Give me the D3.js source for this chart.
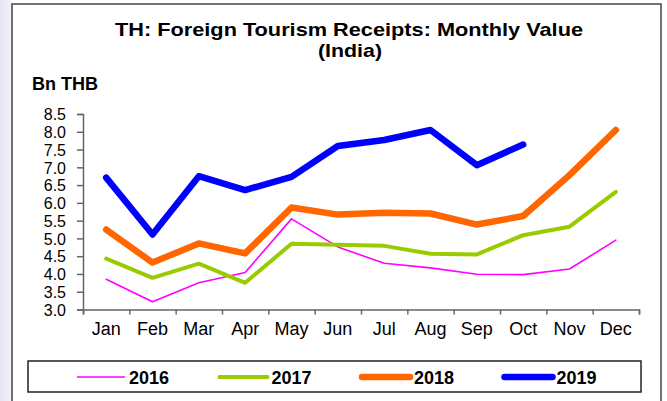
<!DOCTYPE html>
<html lang="en">
<head>
    <meta charset="UTF-8">
    <title>TH: Foreign Tourism Receipts: Monthly Value (India)</title>
    <script src="https://cdnjs.cloudflare.com/ajax/libs/d3/7.8.5/d3.min.js"></script>
    <style>
        body { margin: 0; background: #fff; }
        svg { display: block; font-family: "Liberation Sans", Arial, sans-serif; }
        .axis path, .axis line { stroke: #666; stroke-width: 1.5px; }
        .axis text { font-size: 18px; fill: #000; }
        .yaxis text { font-size: 16px; }
    </style>
</head>
<body>
    <svg id="chart"></svg>
    <script>
        const months = ["Jan", "Feb", "Mar", "Apr", "May", "Jun", "Jul", "Aug", "Sep", "Oct", "Nov", "Dec"];
        const years = ["2016", "2017", "2018", "2019"];
        const v2016 = [3.85, 3.22, 3.75, 4.04, 5.55, 4.76, 4.30, 4.17, 3.99, 3.98, 4.14, 4.95];
        const v2017 = [4.43, 3.89, 4.29, 3.75, 4.85, 4.82, 4.79, 4.57, 4.55, 5.09, 5.33, 6.31];
        const v2018 = [5.25, 4.32, 4.86, 4.58, 5.87, 5.67, 5.72, 5.70, 5.39, 5.63, 6.78, 8.05];
        const v2019 = [6.71, 5.11, 6.75, 6.36, 6.73, 7.60, 7.77, 8.05, 7.06, 7.64, null, null];
        const yTicks = [3.0, 3.5, 4.0, 4.5, 5.0, 5.5, 6.0, 6.5, 7.0, 7.5, 8.0, 8.5];

        const series = [
            { name: years[0], values: v2016, color: "#ff00ff", width: 1.6 },
            { name: years[1], values: v2017, color: "#99cc00", width: 4 },
            { name: years[2], values: v2018, color: "#ff6600", width: 6.5 },
            { name: years[3], values: v2019, color: "#0000ff", width: 6.5 }
        ];

        const W = 667, H = 401;
        const svg = d3.select("#chart").attr("width", W).attr("height", H);

        // left page shading and chart frame
        const grad = svg.append("defs").append("linearGradient")
            .attr("id", "side").attr("x1", "0%").attr("x2", "100%");
        grad.append("stop").attr("offset", "0%").attr("stop-color", "#e6e6f4");
        grad.append("stop").attr("offset", "100%").attr("stop-color", "#f2f2fa");
        svg.append("rect").attr("x", 0).attr("y", 0).attr("width", 12).attr("height", H).attr("fill", "url(#side)");
        svg.append("rect").attr("x", 12).attr("y", 4).attr("width", 649).attr("height", 420)
            .attr("fill", "#fff").attr("stroke", "#444").attr("stroke-width", 1.5);

        // titles
        svg.append("text").attr("x", 349).attr("y", 36).attr("text-anchor", "middle")
            .attr("font-size", 19).attr("font-weight", "bold")
            .attr("textLength", 468).attr("lengthAdjust", "spacingAndGlyphs")
            .text("TH: Foreign Tourism Receipts: Monthly Value");
        svg.append("text").attr("x", 350).attr("y", 57).attr("text-anchor", "middle")
            .attr("font-size", 19).attr("font-weight", "bold")
            .attr("textLength", 64).attr("lengthAdjust", "spacingAndGlyphs")
            .text("(India)");
        svg.append("text").attr("x", 32).attr("y", 90)
            .attr("font-size", 18).attr("font-weight", "bold")
            .text("Bn THB");

        const x = d3.scaleBand().domain(months).range([83, 639]).padding(0);
        const xEdge = d3.scaleLinear().domain([0, months.length]).range([83, 639]);
        const y = d3.scaleLinear().domain([3, 8.5]).range([309.5, 114]);

        // y axis
        const gy = svg.append("g").attr("class", "axis yaxis").attr("transform", "translate(83,0)")
            .call(d3.axisLeft(y).tickValues(yTicks).tickFormat(d3.format(".1f")).tickSize(6).tickPadding(11));
        gy.selectAll("text").attr("dy", "0.36em");

        // x axis: ticks at month boundaries, labels at centres
        svg.append("g").attr("class", "axis").attr("transform", "translate(0,309.5)")
            .call(d3.axisBottom(xEdge).ticks(12).tickFormat("").tickSize(5).tickSizeOuter(5));
        svg.append("g").attr("class", "axis").selectAll("text")
            .data(months).join("text")
            .attr("x", d => x(d) + x.bandwidth() / 2)
            .attr("y", 335)
            .attr("text-anchor", "middle")
            .text(d => d);

        const line = d3.line()
            .defined(d => d != null)
            .x((d, i) => x(months[i]) + x.bandwidth() / 2)
            .y(d => y(d));

        svg.append("g").selectAll("path")
            .data(series).join("path")
            .attr("fill", "none")
            .attr("stroke", d => d.color)
            .attr("stroke-width", d => d.width)
            .attr("stroke-linejoin", "round")
            .attr("stroke-linecap", "round")
            .attr("d", d => line(d.values));

        // legend
        svg.append("rect").attr("x", 28).attr("y", 361).attr("width", 613).attr("height", 31)
            .attr("fill", "#fff").attr("stroke", "#222").attr("stroke-width", 1.5);
        const leg = svg.append("g").selectAll("g")
            .data(series).join("g")
            .attr("transform", (d, i) => `translate(${77 + i * 142.5},377)`);
        leg.append("line")
            .attr("x1", 0).attr("x2", 48)
            .attr("stroke", d => d.color)
            .attr("stroke-width", d => d.width)
            .attr("stroke-linecap", d => d.width > 2 ? "round" : "butt");
        leg.append("text")
            .attr("x", 52).attr("y", 6.5)
            .attr("font-size", 18).attr("font-weight", "bold")
            .text(d => d.name);
    </script>
</body>
</html>
